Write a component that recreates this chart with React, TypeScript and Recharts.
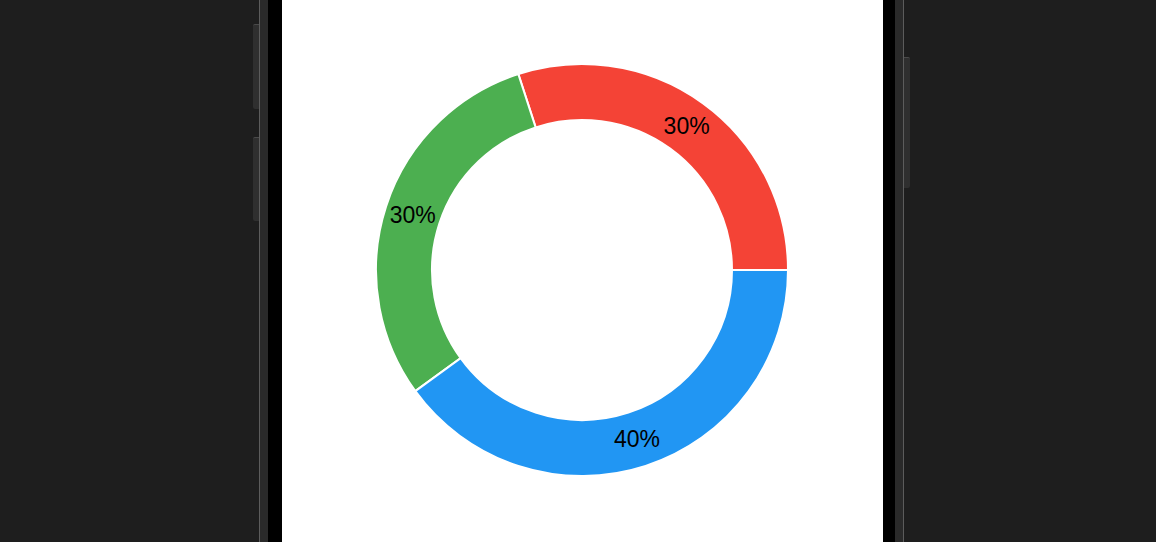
import React from 'react';
import { PieChart, Pie, Cell } from 'recharts';

const categories = ['Red', 'Green', 'Blue'];
const values = [30, 30, 40];
const colors = ['#F44336', '#4CAF50', '#2196F3'];

const RADIAN = Math.PI / 180;

interface SliceLabelProps {
  cx?: number;
  cy?: number;
  midAngle?: number;
  innerRadius?: number;
  outerRadius?: number;
  value?: number;
}

// percentage text centred in the ring thickness
function SliceLabel({ cx = 0, cy = 0, midAngle = 0, innerRadius = 0, outerRadius = 0, value }: SliceLabelProps) {
  const r = innerRadius + (outerRadius - innerRadius) / 2;
  const x = cx + r * Math.cos(-midAngle * RADIAN);
  const y = cy + r * Math.sin(-midAngle * RADIAN);
  return (
    <text x={x} y={y} fill="#000" textAnchor="middle" dominantBaseline="central"
      style={{ fontFamily: '"Liberation Sans", Arial, sans-serif', fontSize: 23 }}>
      {`${value}%`}
    </text>
  );
}

const edge = (left: number, top: number, width: number, height: number, bg: string, extra: React.CSSProperties = {}) => (
  <div style={{ position: 'absolute', left, top, width, height, background: bg, ...extra }} />
);

export default function App() {
  const chartData = categories.map((name, i) => ({ name, value: values[i] }));

  return (
    <div style={{ position: 'fixed', left: 0, top: 0, width: 1156, height: 542, background: '#1e1e1e', overflow: 'hidden' }}>
      {/* device side buttons */}
      {edge(253, 24, 6, 84, '#2f2f2f', { borderTop: '1px solid #4a4a4a', borderRadius: '2px 0 0 2px' })}
      {edge(253, 137, 6, 83, '#2f2f2f', { borderTop: '1px solid #4a4a4a', borderRadius: '2px 0 0 2px' })}
      {edge(904, 57, 6, 130, '#2f2f2f', { borderTop: '1px solid #4a4a4a', borderRadius: '0 2px 2px 0' })}

      {/* bezel */}
      {edge(259, 0, 1, 542, '#5c5c5c')}
      {edge(260, 0, 8, 542, '#2a2a2a')}
      {edge(268, 0, 14, 542, '#000')}
      {edge(883, 0, 12, 542, '#000')}
      {edge(895, 0, 8, 542, '#2a2a2a')}
      {edge(903, 0, 1, 542, '#5c5c5c')}

      {/* screen */}
      <div style={{ position: 'absolute', left: 282, top: 0, width: 601, height: 542, background: '#fff' }}>
        <PieChart width={601} height={542} margin={{ top: 0, right: 0, bottom: 0, left: 0 }}>
          <Pie
            data={chartData}
            dataKey="value"
            nameKey="name"
            cx={300}
            cy={270}
            innerRadius={150}
            outerRadius={206}
            startAngle={0}
            endAngle={360}
            stroke="#fff"
            strokeWidth={2}
            label={SliceLabel}
            labelLine={false}
            isAnimationActive={false}
          >
            {chartData.map((d, i) => (
              <Cell key={d.name} fill={colors[i]} />
            ))}
          </Pie>
        </PieChart>
      </div>
    </div>
  );
}
